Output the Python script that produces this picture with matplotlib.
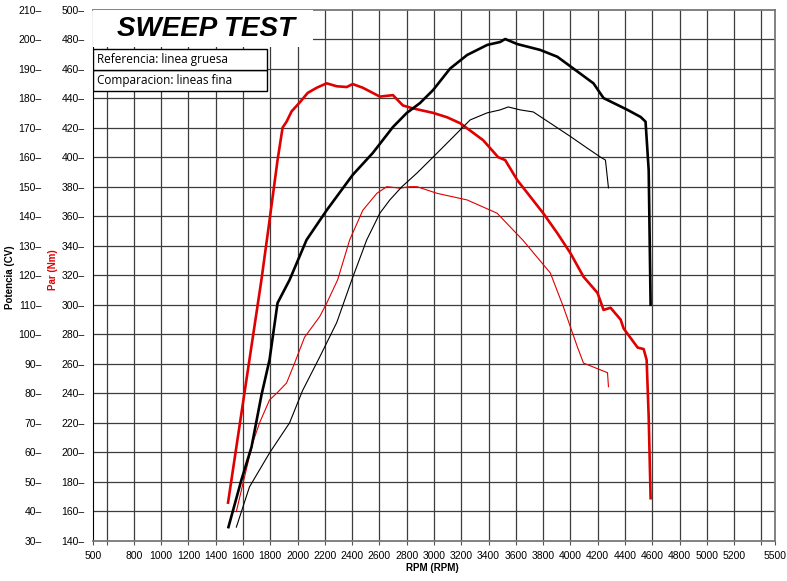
import matplotlib
matplotlib.use("Agg")
import matplotlib.pyplot as plt
from matplotlib.patches import Rectangle

# torque curves (Nm) - red
par_ref_rpm = [1490, 1610, 1735, 1794, 1853, 1890, 1919, 1956, 2015, 2074, 2140, 2213, 2287, 2360,
               2404, 2478, 2603, 2699, 2772, 2846, 2993, 3096, 3191, 3265, 3360, 3470, 3522, 3610,
               3801, 3904, 4000, 4096, 4199, 4243, 4294, 4368, 4390, 4493, 4537, 4559, 4574, 4588]
par_ref = [166, 240, 317, 357, 398, 420, 424, 431, 437, 443.5, 447, 450, 448, 447.5,
           449.5, 447, 441, 442, 435, 433, 430, 427, 423, 418, 411.5, 400, 398, 384.5,
           362, 348.5, 335, 319, 308, 296.5, 298, 290, 284, 271, 270, 262.6, 224, 169]

par_cmp_rpm = [1551, 1669, 1721, 1794, 1846, 1919, 1978, 2051, 2162, 2213, 2294, 2382, 2478, 2581,
               2654, 2750, 2824, 2875, 3022, 3243, 3463, 3654, 3853, 3949, 4051, 4096, 4272, 4279]
par_cmp = [160, 206, 220, 235.5, 240, 247, 260.5, 278, 292, 301, 317, 344, 364, 375.5,
           380, 379, 380, 380, 375.5, 371, 362, 343.5, 321.5, 298.5, 271.5, 260.5, 254, 244.5]

# power curves (CV) - black
pot_ref_rpm = [1493, 1588, 1662, 1735, 1794, 1853, 1941, 2066, 2213, 2404, 2551, 2699, 2801, 2897,
               2993, 3118, 3243, 3390, 3485, 3522, 3610, 3779, 3904, 4022, 4169, 4243, 4419, 4515,
               4551, 4574, 4588]
pot_ref = [34.7, 50.7, 61.8, 79.4, 91.3, 110.6, 118.4, 132, 142, 154, 161.4, 170.2, 175, 178.3,
           182.7, 190, 194.6, 198, 199, 200, 198.3, 196.3, 194, 190, 185, 180, 176, 173.6,
           172, 155.6, 110]

pot_cmp_rpm = [1551, 1647, 1794, 1941, 2037, 2162, 2287, 2397, 2507, 2603, 2676, 2765, 2875, 2993,
               3140, 3265, 3390, 3485, 3544, 3632, 3728, 3853, 4000, 4125, 4221, 4257, 4279]
pot_cmp = [34.7, 48.3, 59.8, 70, 81, 92.3, 104, 118.4, 132, 141, 145.5, 150, 154.6, 160,
           166.8, 172.6, 175, 176, 177, 176, 175.3, 171.5, 167, 163, 160, 159, 149.6]

x_ticks = [500, 600] + list(range(800, 5201, 200)) + [5400, 5500]
x_labels = [str(v) if v not in (600, 5400) else "" for v in x_ticks]
nm_ticks = list(range(140, 501, 20))
cv_ticks = list(range(30, 211, 10))

RED = "#e00000"

fig = plt.figure(figsize=(7.87, 5.81), dpi=100)
ax = fig.add_axes([93 / 787, 1 - 541 / 581, 682 / 787, 531.5 / 581])
ax2 = ax.twinx()

ax.set_xlim(500, 5500)
ax.set_ylim(140, 500)
ax2.set_ylim(30, 210)

# grid
for v in x_ticks[1:-1]:
    ax.axvline(v, color="#3c3c3c", lw=0.9, zorder=0)
for v in nm_ticks[1:-1]:
    ax.axhline(v, color="#3c3c3c", lw=0.9, zorder=0)

ax.plot(par_ref_rpm, par_ref, color=RED, lw=1.9)
ax.plot(par_cmp_rpm, par_cmp, color=RED, lw=0.8)
ax2.plot(pot_ref_rpm, pot_ref, color="black", lw=1.9)
ax2.plot(pot_cmp_rpm, pot_cmp, color="black", lw=0.8)

ax.set_xticks(x_ticks)
ax.set_xticklabels(x_labels, fontsize=7.5, family="Liberation Sans")
ax.tick_params(axis="x", length=3, pad=4, color="#555555")
ax.set_yticks(nm_ticks)
ax.set_yticklabels([f"{v}\u2013" for v in nm_ticks], fontsize=7.5, family="Liberation Sans")
ax.tick_params(axis="y", length=0, pad=6)

ax2.yaxis.set_ticks_position("left")
ax2.spines["left"].set_position(("outward", 31))
ax2.spines["left"].set_visible(False)
ax2.set_yticks(cv_ticks)
ax2.set_yticklabels([f"{v}\u2013" for v in cv_ticks], fontsize=7.5, family="Liberation Sans")
ax2.tick_params(axis="y", length=0, pad=6)
ax2.spines["right"].set_visible(False)

for s in ["top", "right", "bottom"]:
    ax.spines[s].set_color("#777777")
    ax.spines[s].set_linewidth(1.3)
ax.spines["left"].set_color("black")
ax2.spines["top"].set_visible(False)
ax2.spines["bottom"].set_visible(False)

# title box
ax2.add_patch(Rectangle((0, 0.930), 0.323, 0.07, transform=ax2.transAxes,
                        facecolor="white", edgecolor="none", zorder=5, clip_on=False))
ax2.text(0.035, 0.963, "SWEEP TEST", transform=ax2.transAxes, fontsize=20,
         fontweight="bold", fontstyle="italic", family="Liberation Sans",
         va="center", ha="left", zorder=6)

# legend box
bw = (267 - 93) / 682
rh = 21 / 531.5
y1 = (541 - 91) / 531.5
for i, txt in enumerate(["Comparacion: lineas fina", "Referencia: linea gruesa"]):
    yb = y1 + i * rh
    ax2.add_patch(Rectangle((0, yb), bw, rh, transform=ax2.transAxes, facecolor="white",
                            edgecolor="black", lw=1.0, zorder=5))
    ax2.text(0.006, yb + rh / 2, txt, transform=ax2.transAxes, fontsize=8.5,
             family="Open Sans", va="center", ha="left", zorder=6)

fig.text(432 / 787, 1 - 568 / 581, "RPM (RPM)", fontsize=7, fontweight="bold",
         family="Liberation Sans", ha="center", va="center")
fig.text(10 / 787, 1 - 277 / 581, "Potencia (CV)", fontsize=7, fontweight="bold",
         family="Liberation Sans", ha="center", va="center", rotation=90)
fig.text(53 / 787, 1 - 270 / 581, "Par (Nm)", fontsize=7, fontweight="bold", color=RED,
         family="Liberation Sans", ha="center", va="center", rotation=90)

fig.savefig("out.png", dpi=100)
